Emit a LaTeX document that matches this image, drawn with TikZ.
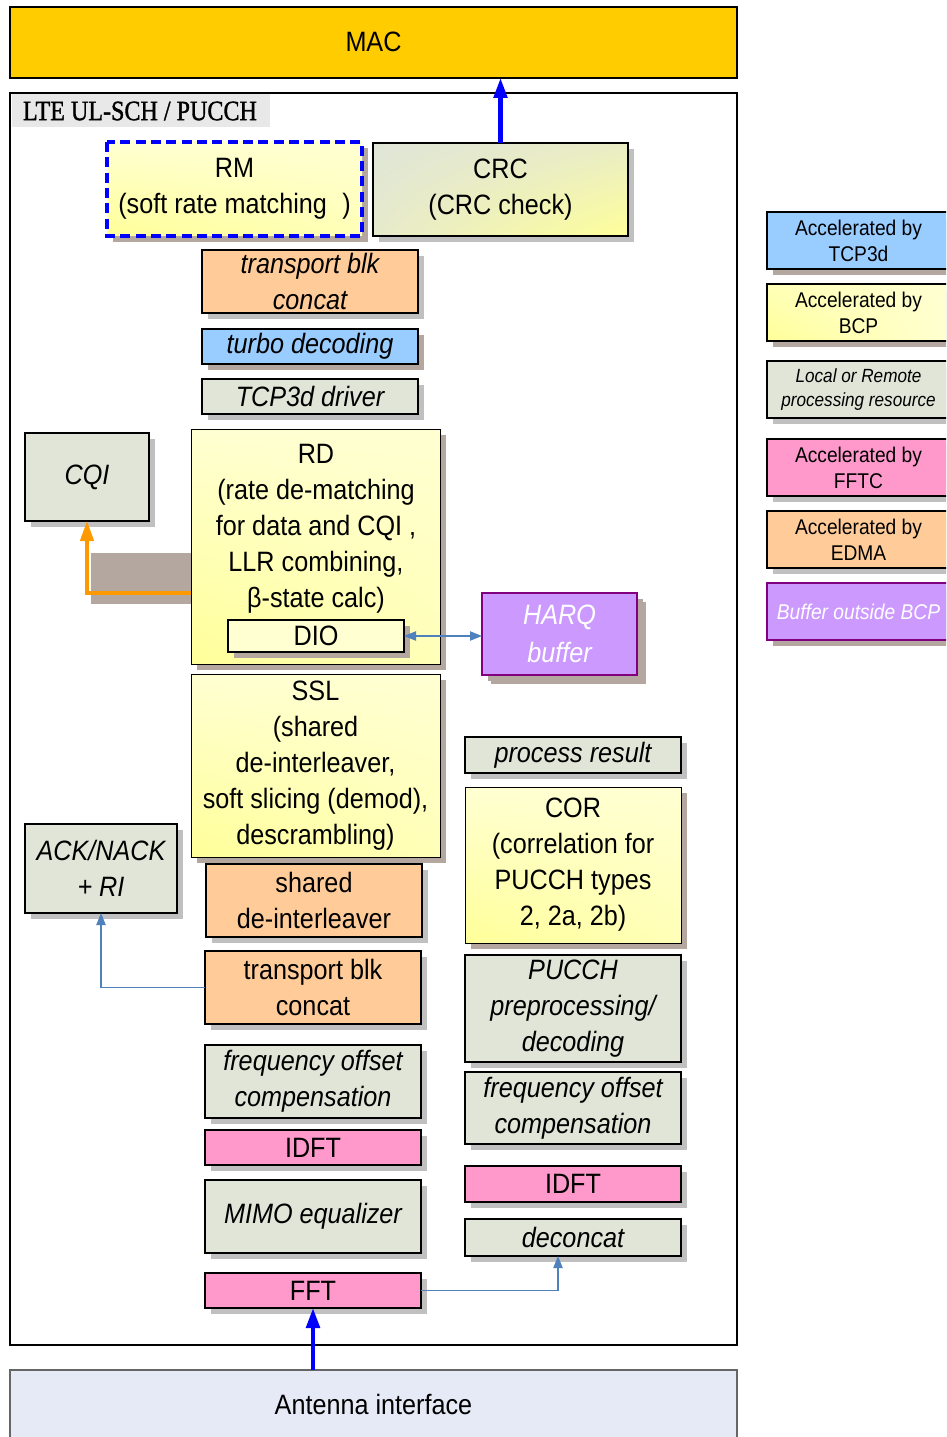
\documentclass[tikz,border=0pt]{standalone}
\usepackage{fontspec}
\setmainfont{Liberation Sans}[FakeStretch=0.9]
\newfontfamily\labelserif{Liberation Serif}[FakeStretch=0.86, FakeBold=1.2]
\usetikzlibrary{arrows.meta,shadows,shadings}

\definecolor{gold}{HTML}{FFCC00}
\definecolor{greengray}{HTML}{E0E5D8}
\definecolor{peach}{HTML}{FFCC99}
\definecolor{skyblue}{HTML}{99CCFF}
\definecolor{pink}{HTML}{FF99CC}
\definecolor{lavender}{HTML}{CC99FF}
\definecolor{plum}{HTML}{800080}
\definecolor{ylight}{HTML}{FFFFD2}
\definecolor{ymid}{HTML}{FFFFB8}
\definecolor{ydeep}{HTML}{FFFF99}
\definecolor{antblue}{HTML}{E6EAF6}
\definecolor{shbrown}{HTML}{B4A7A0}
\definecolor{shgray}{HTML}{C0C0C0}
\definecolor{tagbg}{HTML}{E8E8E8}
\definecolor{linkblue}{HTML}{4F81BD}
\definecolor{pureblue}{HTML}{0000FF}
\definecolor{amber}{HTML}{FF9900}

\tikzset{
  every node/.style={inner sep=0pt, outer sep=0pt},
  wh/.style 2 args={minimum width=#1*0.75pt, minimum height=#2*0.75pt},
  bigtext/.style={font=\fontsize{21}{27}\selectfont},
  bigital/.style={font=\fontsize{21}{27}\selectfont\itshape},
  box/.style={draw=black, line width=1pt, align=center, bigtext},
  gsh/.style={drop shadow={shadow xshift=4.5pt, shadow yshift=-4.5pt, fill=shgray, opacity=1}},
  bsh/.style={drop shadow={shadow xshift=4.5pt, shadow yshift=-4.5pt, fill=shbrown, opacity=1}},
  greenbox/.style={box, fill=greengray, gsh, bigital},
  peachbox/.style={box, fill=peach, gsh},
  pinkbox/.style={box, fill=pink, gsh},
  bluebox/.style={box, fill=skyblue, bsh},
  yellowbox/.style={box, bsh, shading=bilinear interpolation,
    upper left=ylight, upper right=ylight, lower left=ydeep, lower right=ymid},
  purplebox/.style={box, fill=lavender, draw=plum, line width=2pt, bsh,
    text=white, bigital},
  legend/.style={box, wh={183}{57}, anchor=north west,
    font=\fontsize{16}{19.5}\selectfont},
  fatarrow/.style={pureblue, line width=3.2pt,
    -{Triangle[length=15pt,width=10pt]}},
  thinarrow/.style={linkblue, line width=0.8pt,
    -{Triangle[length=9pt,width=7pt]}},
  dashedframe/.style={pureblue, line width=2.3pt, dash pattern=on 7.5pt off 4pt},
}

\begin{document}
\begin{tikzpicture}[x=0.75pt, y=-0.75pt]
  \useasboundingbox (0,0) rectangle (946,1437);
  \clip (0,0) rectangle (946,1437);

  % top and bottom layers
  \node[box, fill=gold, wh={727}{71}, anchor=north west] (mac) at (10,7) {\raisebox{1pt}{MAC}};
  \node[draw=black, line width=0.8pt, wh={727}{1252}, anchor=north west] (frame) at (10,93) {};
  \node[fill=tagbg, wh={258}{33}, anchor=north west] (tagbg) at (12,94) {};
  \node[anchor=west, font=\labelserif\fontsize{21}{24}\selectfont] (tag) at (23,111) {LTE UL-SCH / PUCCH};
  \node[box, draw=black!60, line width=1.2pt, fill=antblue, wh={727}{68}, anchor=north west]
    (ant) at (10,1370) {Antenna interface};

  % decoding chain
  \node[yellowbox, draw=none, wh={255}{94}, anchor=north west] (rm) at (107,142)
    {RM\\(soft rate matching\hspace{0.55em})};
  \draw[dashedframe] (rm.north west) rectangle (rm.south east);
  \node[box, gsh, shading=bilinear interpolation,
    upper left=greengray, lower left=greengray!80!ydeep,
    upper right=greengray!70!ydeep, lower right=ydeep,
    wh={255}{93}, anchor=north west] (crc) at (373,143) {CRC\\(CRC check)};
  \node[peachbox, bigital, wh={216}{63}, anchor=north west] (tbk) at (202,250)
    {transport blk\\concat};
  \node[bluebox, bigital, wh={216}{35}, anchor=north west] (turbo) at (202,329) {turbo decoding};
  \node[greenbox, wh={216}{35}, anchor=north west] (tcp) at (202,379) {TCP3d driver};

  \node[greenbox, wh={124}{88}, anchor=north west] (cqi) at (25,433) {CQI};

  % block behind the CQI feedback path
  \fill[shbrown] (91,553) rectangle (191,604);

  \node[yellowbox, line width=0.6pt, wh={249}{235}, anchor=north west] (rd) at (191,429) {};
  \node[align=center, bigtext] (rdtext) at (316,529)
    {RD\\(rate de-matching\\for data and CQI\ ,\\LLR combining,\\β-state calc)};
  \node[box, line width=0.8pt, fill=ylight, bsh, wh={176}{32}, anchor=north west] (dio) at (228,620) {DIO};
  \node[purplebox, wh={155}{82}, anchor=north west,
    drop shadow={shadow xshift=7pt, shadow yshift=-7pt, fill=shbrown, opacity=1}] (harq) at (482,593)
    {\raisebox{2pt}{HARQ}\\buffer};

  \node[yellowbox, line width=0.6pt, wh={249}{183}, anchor=north west] (ssl) at (191,674)
    {SSL\\(shared\\de-interleaver,\\soft slicing (demod),\\descrambling)};
  \node[peachbox, wh={216}{73}, anchor=north west] (sdi) at (206,864) {shared\\de-interleaver};
  \node[peachbox, wh={216}{73}, anchor=north west] (tbc) at (205,951) {transport blk\\concat};
  \node[greenbox, wh={152}{89}, anchor=north west] (ack) at (25,824) {ACK/NACK\\+ RI};

  \node[greenbox, wh={216}{73}, anchor=north west] (foca) at (205,1045) {frequency offset\\compensation};
  \node[pinkbox, wh={216}{35}, anchor=north west] (idfta) at (205,1130) {IDFT};
  \node[greenbox, wh={216}{73}, anchor=north west] (mimo) at (205,1180) {MIMO equalizer};
  \node[pinkbox, wh={216}{35}, anchor=north west] (fft) at (205,1273) {FFT};

  % PUCCH chain
  \node[greenbox, wh={216}{36}, anchor=north west] (proc) at (465,737) {process result};
  \node[yellowbox, line width=0.6pt, wh={216}{156}, anchor=north west] (cor) at (465,787)
    {COR\\(correlation for\\PUCCH types\\2, 2a, 2b)};
  \node[greenbox, wh={216}{107}, anchor=north west] (pucch) at (465,955)
    {PUCCH\\preprocessing/\\decoding};
  \node[greenbox, wh={216}{72}, anchor=north west] (focb) at (465,1072)
    {frequency offset\\compensation};
  \node[pinkbox, wh={216}{36}, anchor=north west] (idftb) at (465,1166) {IDFT};
  \node[greenbox, wh={216}{37}, anchor=north west] (deconcat) at (465,1219) {deconcat};

  % connectors
  \draw[fatarrow] (crc.north) -- (crc.north |- mac.south);
  \draw[fatarrow] (fft.south |- ant.north) -- (fft.south);
  \coordinate (cqitap) at (150,593);
  \draw[amber, line width=2.4pt, -{Triangle[length=15pt,width=10pt]}]
    (rd.west |- cqitap) -| (cqi.south);
  \draw[linkblue, line width=0.8pt, {Triangle[length=9pt,width=7pt]}-{Triangle[length=9pt,width=7pt]}]
    (dio.east) -- (dio.east -| harq.west);
  \draw[thinarrow] (tbc.west) -| (ack.south);
  \draw[thinarrow] (fft.east) -| ([xshift=-11.25pt]deconcat.south);

  % legend
  \node[legend, fill=skyblue, bsh] (lgtcp) at (767,212) {Accelerated by\\TCP3d};
  \node[legend, bsh, shading=bilinear interpolation,
    upper left=ymid, upper right=ylight, lower left=ydeep, lower right=ylight] (lgbcp) at (767,284)
    {Accelerated by\\BCP};
  \node[legend, fill=greengray, gsh, font=\fontsize{14.3}{18}\selectfont\itshape] (lgloc) at (767,361)
    {Local or Remote\\processing resource};
  \node[legend, fill=pink, gsh] (lgfftc) at (767,439) {Accelerated by\\FFTC};
  \node[legend, fill=peach, gsh] (lgedma) at (767,511) {Accelerated by\\EDMA};
  \node[legend, fill=lavender, draw=plum, line width=2pt, bsh, text=white,
    font=\fontsize{16}{19.5}\selectfont\itshape] (lgbuf) at (767,583) {Buffer outside BCP};
\end{tikzpicture}
\end{document}
